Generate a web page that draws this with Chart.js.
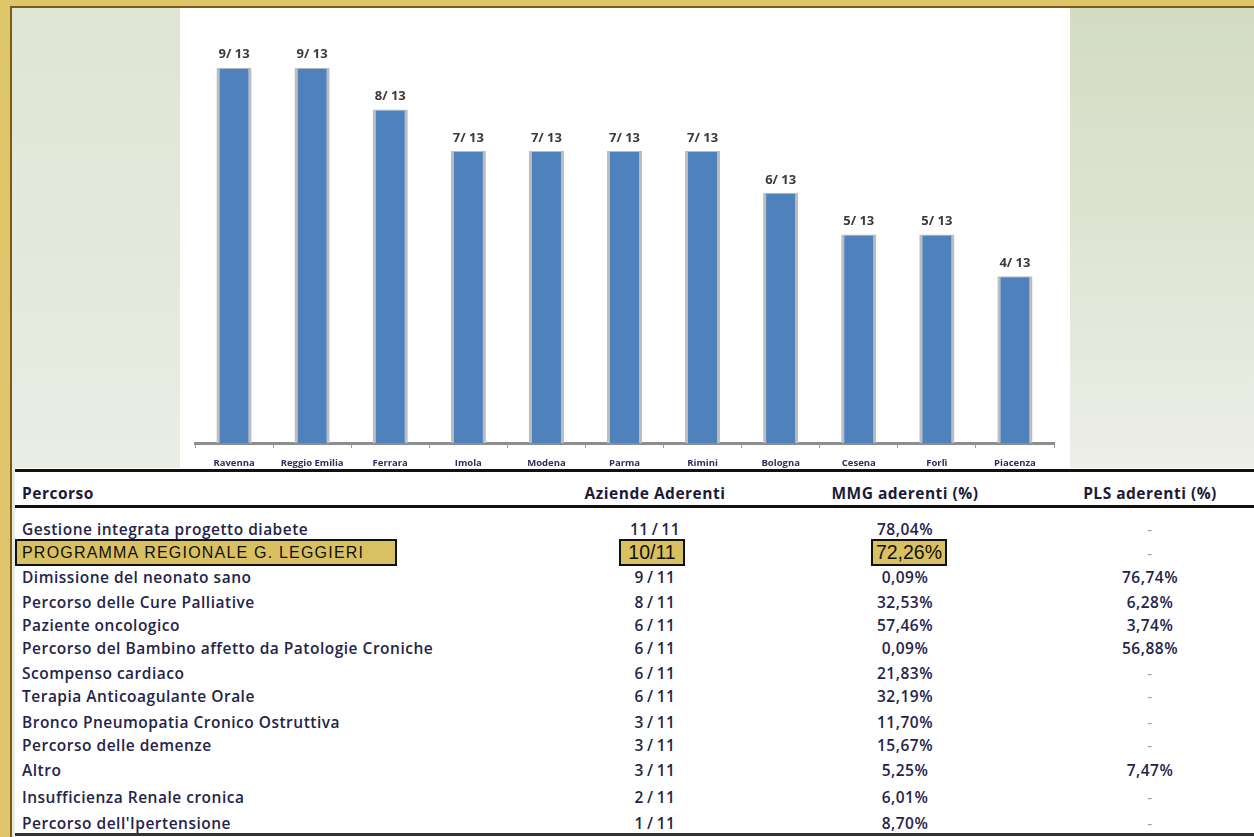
<!DOCTYPE html>
<html>
<head>
<meta charset="utf-8">
<script src="https://cdn.jsdelivr.net/npm/chart.js@4.4.1/dist/chart.umd.min.js"></script>
<style>
  html, body { margin: 0; padding: 0; }
  #slide { position: relative; width: 1254px; height: 837px; overflow: hidden; background: #e6eadf; font-family: "Open Sans", sans-serif; }
  .gold-top { position: absolute; left: 0; top: 0; width: 1254px; height: 6px; background: #dfc66a; }
  .brown-top { position: absolute; left: 10px; top: 6px; width: 1244px; height: 2px; background: #7a5a14; }
  .gold-left { position: absolute; left: 0; top: 0; width: 10px; height: 837px; background: #dfc66a; }
  .brown-left { position: absolute; left: 10px; top: 6px; width: 2px; height: 831px; background: #7a5a14; }
  #bgLeft { position: absolute; left: 12px; top: 8px; width: 168px; height: 460px; background: linear-gradient(180deg, #dfe5d4 0%, #e5e9dd 60%, #eaede4 100%); }
  #bgRight { position: absolute; left: 1070px; top: 8px; width: 184px; height: 460px; background: linear-gradient(180deg, #d3dcc3 0%, #dde3d1 45%, #edefe8 100%); }
  #panel { position: absolute; left: 180px; top: 8px; width: 890px; height: 460px; background: #fff; }
  #tableArea { position: absolute; left: 15px; top: 468px; width: 1239px; height: 369px; background: #fff; }
  .hline { position: absolute; left: 15px; width: 1239px; background: #111; }
  .cell { position: absolute; white-space: nowrap; color: #24244a; font-size: 15.5px; letter-spacing: 0.5px; font-weight: 600; line-height: 20px; }
  .hdr { font-weight: 700; color: #1a1a3a; }
  .dash { color: #a0a0a0; font-weight: 400; }
  .hl { position: absolute; background: #d9c062; border: 2px solid #111; box-sizing: border-box; font-family: "Liberation Sans", Arial, sans-serif; font-size: 19.5px; color: #111; line-height: 23px; white-space: nowrap; }
</style>
</head>
<body>
<div id="slide">
  <div id="bgLeft"></div>
  <div id="bgRight"></div>
  <div id="panel"><canvas id="chart" width="890" height="460"></canvas></div>
  <div id="tableArea"></div>
  <div class="gold-top"></div>
  <div class="gold-left"></div>
  <div class="brown-top"></div>
  <div class="brown-left"></div>
</div>
<script>
// bar chart data
var aziende = ["Ravenna", "Reggio Emilia", "Ferrara", "Imola", "Modena", "Parma", "Rimini", "Bologna", "Cesena", "Forlì", "Piacenza"];
var percorsiAttivi = [9, 9, 8, 7, 7, 7, 7, 6, 5, 5, 4];
var totalePercorsi = 13;

// table data
var colonne = ["Percorso", "Aziende Aderenti", "MMG aderenti (%)", "PLS aderenti (%)"];
var percorsi = [
    "Gestione integrata progetto diabete",
    "PROGRAMMA REGIONALE G. LEGGIERI",
    "Dimissione del neonato sano",
    "Percorso delle Cure Palliative",
    "Paziente oncologico",
    "Percorso del Bambino affetto da Patologie Croniche",
    "Scompenso cardiaco",
    "Terapia Anticoagulante Orale",
    "Bronco Pneumopatia Cronico Ostruttiva",
    "Percorso delle demenze",
    "Altro",
    "Insufficienza Renale cronica",
    "Percorso dell'Ipertensione"
];
var aziendeAderenti = ["11/11", "10/11", "9/11", "8/11", "6/11", "6/11", "6/11", "6/11", "3/11", "3/11", "3/11", "2/11", "1/11"];
var mmgAderenti = ["78,04%", "72,26%", "0,09%", "32,53%", "57,46%", "0,09%", "21,83%", "32,19%", "11,70%", "15,67%", "5,25%", "6,01%", "8,70%"];
var plsAderenti = ["-", "-", "76,74%", "6,28%", "3,74%", "56,88%", "-", "-", "-", "-", "7,47%", "-", "-"];
var rigaEvidenziata = 1;

// layout of the table
var rowCenters = [529, 553, 577, 602, 625, 648, 673, 696, 722, 745, 770, 797, 823];
var colCenters = [null, 655, 905, 1150];

//labels above bars
var barLabels = {
    id: 'barLabels',
    afterDatasetsDraw: function (chart) {
        var ctx = chart.ctx;
        var meta = chart.getDatasetMeta(0);
        ctx.save();
        ctx.font = "bold 13px 'Open Sans', sans-serif";
        ctx.fillStyle = "#3c3a3a";
        ctx.textAlign = "center";
        ctx.textBaseline = "middle";
        meta.data.forEach(function (bar, i) {
            ctx.fillText(percorsiAttivi[i] + "/ " + totalePercorsi, bar.x, bar.y - 13);
        });
        ctx.restore();
    }
};

var chart = new Chart(document.getElementById("chart"), {
    type: 'bar',
    data: {
        labels: aziende,
        datasets: [{
            data: percorsiAttivi,
            backgroundColor: "#4f81bd",
            borderColor: "#bdbdbd",
            borderWidth: { top: 1, left: 3, right: 3, bottom: 0 },
            borderSkipped: false,
            barPercentage: 0.45,
            categoryPercentage: 1
        }]
    },
    options: {
        responsive: false,
        animation: false,
        layout: { padding: { left: 15, right: 16, top: 18, bottom: 0 } },
        plugins: { legend: { display: false }, tooltip: { enabled: false } },
        scales: {
            x: {
                afterFit: function (scale) { scale.height = 25; },
                border: { display: true, color: "#8e8e8e", width: 3 },
                grid: { display: true, drawOnChartArea: false, offset: true, tickLength: 5, color: "#9a9a9a", lineWidth: 1 },
                ticks: { color: "#2e2d5e", padding: 10, font: { family: "'Open Sans', sans-serif", size: 9.5, weight: 'bold' } }
            },
            y: { display: false, min: 0, max: 10 }
        }
    },
    plugins: [barLabels]
});

// table
var slide = document.getElementById("slide");

function addLine(top, h, color) {
    var d = document.createElement("div");
    d.className = "hline";
    d.style.top = top + "px";
    d.style.height = h + "px";
    if (color) d.style.background = color;
    slide.appendChild(d);
}

function addCell(text, col, cls, yc) {
    var d = document.createElement("div");
    d.className = "cell " + (cls || "");
    d.textContent = text;
    d.style.top = (yc - 10) + "px";
    if (col === 0) {
        d.style.left = "22px";
    } else {
        d.style.left = colCenters[col] + "px";
        d.style.transform = "translateX(-50%)";
    }
    slide.appendChild(d);
    return d;
}

function addHighlight(text, left, width, yc, align) {
    var d = document.createElement("div");
    d.className = "hl";
    d.textContent = text;
    d.style.left = left + "px";
    d.style.width = width + "px";
    d.style.top = (yc - 14) + "px";
    d.style.height = "27px";
    d.style.textAlign = align;
    slide.appendChild(d);
    return d;
}

addLine(469, 3);
addLine(505, 3);
addLine(833, 3, "#333");

colonne.forEach(function (c, j) {
    addCell(c, j, "hdr", 493);
});

percorsi.forEach(function (p, i) {
    var y = rowCenters[i];
    if (i === rigaEvidenziata) {
        var h = addHighlight(p, 15, 382, y, "left");
        h.style.paddingLeft = "5px";
        h.style.fontSize = "16px";
        h.style.letterSpacing = "1.2px";
        addHighlight(aziendeAderenti[i], 619, 66, y, "center");
        addHighlight(mmgAderenti[i], 871, 76, y, "center");
        addCell(plsAderenti[i], 3, "dash", y);
        return;
    }
    addCell(p, 0, "", y);
    addCell(aziendeAderenti[i].replace("/", "\u2009/\u2009"), 1, "", y);
    addCell(mmgAderenti[i], 2, "", y);
    addCell(plsAderenti[i], 3, plsAderenti[i] === "-" ? "dash" : "", y);
});
</script>
</body>
</html>
